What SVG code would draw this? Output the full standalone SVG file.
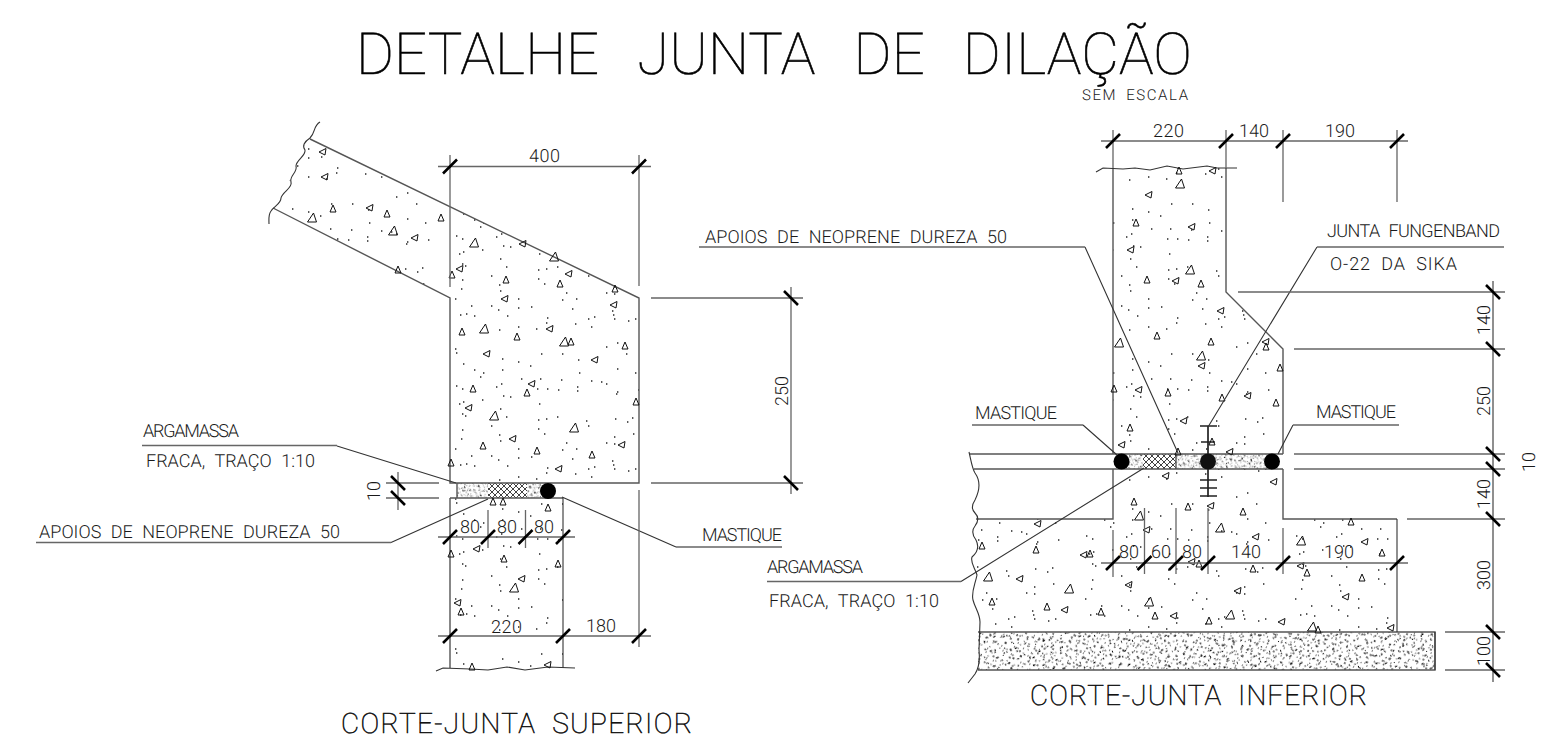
<svg xmlns="http://www.w3.org/2000/svg" xmlns:xlink="http://www.w3.org/1999/xlink" width="1558" height="741" viewBox="0 0 1558 741">
<style>
text{font-family:"Roboto","Liberation Sans",sans-serif;font-weight:300;fill:#1a1a1a;stroke:none;text-rendering:geometricPrecision}
.h{font-weight:100;fill:#000;stroke:#000;stroke-width:.6}
.m{font-weight:100;fill:#111;stroke:#111;stroke-width:.55}
.t{font-size:18px;word-spacing:5px}
.d{font-size:18px}
.o{fill:none;stroke:#555;stroke-width:1.4}
.l{fill:none;stroke:#666;stroke-width:1.3}
.k{fill:none;stroke:#000;stroke-width:2.6}
.e{fill:none;stroke:#333;stroke-width:1.1}
.w{fill:none;stroke:#333;stroke-width:1.1}
use{fill:none;stroke:#111;stroke-width:1}
</style>
<defs>
<path id="a" d="M-3 3H3L0-4Z"/>
<path id="b" d="M-4 0L3-3.500L2 3Z"/>
<path id="c" d="M-4.500 4H4.500L1.500-5Z"/>
<pattern id="dots" patternUnits="userSpaceOnUse" x="440" y="340" width="210" height="150">
<path fill="none" stroke="#222" stroke-width="1.400" d="M15 9h1.400M16 13h1.400M23 24h1.400M34 30h1.400M43 33h1.400M40 37h1.400M62 19h1.400M62 30h1.400M78 22h1.400M90 26h1.400M101 14h1.400M122 14h1.400M138 20h1.400M139 33h1.400M121 40h1.400M100 39h1.400M81 39h1.400M61 44h1.400M56 47h1.400M16 46h1.400M22 49h1.400M42 60h1.400M63 56h1.400M70 57h1.400M97 49h1.400M107 49h1.400M118 50h1.400M137 47h1.400M137 51h1.400M151 41h1.400M161 42h1.400M166 44h1.400M177 52h1.400M176 54h1.400M198 50h1.400M166 7h1.400M177 3h1.400M186 14h1.400M177 29h1.400M195 33h1.400M19 64h1.400M23 62h1.400M22 74h1.400M25 76h1.400M60 69h1.400M66 77h1.400M51 86h1.400M99 64h1.400M98 80h1.400M106 79h1.400M117 77h1.400M146 81h1.400M148 86h1.400M175 79h1.400M192 78h1.400M187 82h1.400M98 89h1.400M104 94h1.400M22 90h1.400M21 99h1.400M59 95h1.400M60 101h1.400M15 109h1.400M31 116h1.400M51 116h1.400M58 120h1.400M78 109h1.400M78 118h1.400M91 117h1.400M126 103h1.400M122 110h1.400M136 109h1.400M132 119h1.400M166 103h1.400M174 97h1.400M174 104h1.400M193 94h1.400M172 121h1.400M173 125h1.400M174 129h1.400M154 127h1.400M148 129h1.400M195 129h1.400M188 131h1.400M107 128h1.400M106 133h1.400M135 134h1.400M151 137h1.400M96 139h1.400M78 137h1.400M59 140h1.400M67 126h1.400M34 126h1.400M26 124h1.400M20 125h1.400"/>
</pattern>
<pattern id="grav" patternUnits="userSpaceOnUse" x="977" y="632" width="64" height="38" patternTransform="rotate(23)">
<path fill="none" stroke="#000" stroke-width="1.100" d="M1 2h2M10 3h1M19 2h1M28 1h1M38 1h1M47 1h2M57 1h1M3 6h1M13 5h1M22 6h2M31 5h1M41 6h2M50 5h1M60 6h1M5 11h1M15 11h1M25 9h2M34 10h1M44 9h1M53 10h2M62 11h1M8 15h1M17 15h2M26 15h1M36 15h1M45 13h2M55 14h1M1 18h1M10 17h2M19 18h1M29 17h1M38 18h2M48 19h1M57 19h1M7 23h2M17 23h1M26 21h1M35 22h1M45 21h1M54 22h2M5 27h1M14 27h2M24 25h1M33 26h1M42 27h1M52 25h1M61 26h2M8 31h1M17 31h1M26 29h2M36 30h1M45 31h2M54 29h1M1 34h1M10 33h1M20 34h2M29 35h1M38 33h1M48 34h1M57 35h1"/>
</pattern>
<pattern id="grav2" href="#grav" patternTransform="rotate(-31) scale(1.15)"/>
<pattern id="grav3" href="#grav" patternTransform="rotate(71) scale(.9)"/>
<pattern id="grav4" href="#grav" patternTransform="rotate(11) scale(.55)"/>
<pattern id="grav5" href="#grav" patternTransform="rotate(-58) scale(.6)"/>
<pattern id="cross" patternUnits="userSpaceOnUse" width="6" height="6">
<path fill="none" stroke="#111" stroke-width=".8" d="M0 0L6 6M6 0L0 6"/>
</pattern>
</defs>

<g id="titulo">
<text class="h" x="356" y="74" font-size="58" textLength="836" style="word-spacing:24px">DETALHE JUNTA DE DILAÇÃO</text>
<text x="1082" y="100" font-size="15" textLength="106" style="word-spacing:4px">SEM ESCALA</text>
</g>

<g id="corte-superior">
<path fill="url(#dots)" d="M310 139L639 298V483H450V298L273 208L290 180L300 155Z"/>
<path fill="url(#dots)" d="M450 498H563V668H450Z"/>
<rect x="457" y="483" width="84" height="15" fill="url(#grav3)"/>
<rect x="457" y="483" width="84" height="15" fill="url(#grav4)"/>
<rect x="457" y="483" width="84" height="15" fill="url(#grav5)"/>
<rect x="488" y="483" width="39" height="15" fill="#fff"/>
<rect x="488" y="483" width="39" height="15" fill="url(#cross)"/>
<path class="o" d="M310 139L639 298V483H450V298L273 208M457 483V498M450 498H563M450 498V668"/>
<path class="e" d="M563 498V668"/>
<path class="w" d="M320 122C313 126 316 132 310 138C304 142 302 146 305 150C306 156 296 160 296 166C298 172 289 176 291 182C293 188 282 192 281 198C281 204 274 206 271 211C268 215 269 220 269 224"/>
<path class="w" d="M436 671L443 668L470 669L488 670L507 667L525 670L548 667L575 668"/>
<circle cx="548" cy="491" r="8"/>
<g id="agregado-superior">
<use href="#b" x="323" y="152"/><use href="#b" x="325" y="177"/><use href="#c" x="312" y="218"/><use href="#a" x="333" y="209"/><use href="#b" x="370" y="208"/><use href="#a" x="387" y="214"/><use href="#c" x="393" y="231"/><use href="#b" x="415" y="238"/><use href="#a" x="441" y="218"/><use href="#a" x="398" y="270"/><use href="#c" x="474" y="243"/><use href="#b" x="523" y="244"/><use href="#c" x="554" y="257"/><use href="#b" x="569" y="274"/><use href="#a" x="560" y="284"/><use href="#a" x="506" y="280"/><use href="#b" x="460" y="269"/><use href="#a" x="452" y="275"/><use href="#b" x="505" y="299"/><use href="#a" x="615" y="289"/><use href="#b" x="614" y="305"/><use href="#a" x="462" y="332"/><use href="#c" x="484" y="329"/><use href="#a" x="517" y="337"/><use href="#b" x="550" y="329"/><use href="#c" x="564" y="342"/><use href="#a" x="571" y="342"/><use href="#a" x="625" y="346"/><use href="#b" x="487" y="354"/><use href="#b" x="595" y="360"/><use href="#b" x="532" y="384"/><use href="#a" x="527" y="393"/><use href="#a" x="473" y="389"/><use href="#b" x="469" y="408"/><use href="#c" x="494" y="416"/><use href="#c" x="574" y="428"/><use href="#a" x="636" y="402"/><use href="#b" x="513" y="439"/><use href="#a" x="483" y="446"/><use href="#a" x="537" y="451"/><use href="#a" x="592" y="455"/><use href="#b" x="622" y="445"/><use href="#b" x="559" y="469"/><use href="#a" x="451" y="463"/><use href="#a" x="493" y="502"/><use href="#a" x="503" y="502"/><use href="#a" x="548" y="508"/><use href="#b" x="477" y="549"/><use href="#a" x="451" y="554"/><use href="#a" x="504" y="559"/><use href="#a" x="558" y="564"/><use href="#b" x="522" y="579"/><use href="#c" x="514" y="588"/><use href="#b" x="458" y="603"/><use href="#a" x="461" y="612"/><use href="#b" x="548" y="665"/><use href="#a" x="472" y="667"/>
</g>
</g>

<g id="corte-inferior">
<path fill="url(#dots)" d="M1113 168H1226V292L1283 349V454H1113Z"/>
<path fill="url(#dots)" d="M1113 469H1283V519H1397V632H979L976 575L976 519H1113Z"/>
<rect x="978" y="632" width="457" height="38" fill="url(#grav)"/>
<rect x="978" y="632" width="457" height="38" fill="url(#grav2)"/>
<rect x="978" y="632" width="457" height="38" fill="url(#grav3)"/>
<rect x="1121" y="454" width="151" height="15" fill="url(#grav3)"/>
<rect x="1121" y="454" width="151" height="15" fill="url(#grav4)"/>
<rect x="1121" y="454" width="151" height="15" fill="url(#grav5)"/>
<rect x="1143" y="454" width="33" height="15" fill="#fff"/>
<rect x="1143" y="454" width="33" height="15" fill="url(#cross)"/>
<path class="o" d="M1113 168V454M1226 168V292L1283 349V454M970 454H1283M974 469H1283M1113 469V519H976M1283 469V519H1397M1176 454V469M978 632H1435V670H978"/>
<path class="e" d="M1397 519V632M1435 632V670"/>
<path class="w" d="M1096 172L1103 168L1123 169L1135 168L1150 170L1167 166L1183 169L1207 166L1217 168L1237 168"/>
<path class="w" d="M969 452C971 460 972 468 975 473C980 480 980 490 975 500C971 506 972 510 975 513C979 517 978 522 975 526C971 531 973 536 976 540C979 546 978 552 972 557C970 563 975 568 977 575C975 585 971 592 973 600C975 608 980 614 980 622L979 650C980 660 979 668 975 674L968 683"/>
<circle cx="1121.500" cy="461.500" r="8"/><circle cx="1208" cy="461.500" r="8" fill="#111"/><circle cx="1272" cy="461.500" r="8"/>
<path fill="none" stroke="#222" stroke-width="1.700" d="M1208 426V454M1208 469V497M1200 426H1217M1201 442H1215M1200 480H1217M1200 488H1217M1200 496H1217"/>
<g id="agregado-inferior">
<use href="#a" x="1179" y="171"/><use href="#b" x="1213" y="171"/><use href="#c" x="1180" y="184"/><use href="#b" x="1149" y="195"/><use href="#a" x="1136" y="223"/><use href="#b" x="1131" y="250"/><use href="#b" x="1192" y="227"/><use href="#c" x="1190" y="270"/><use href="#a" x="1147" y="280"/><use href="#b" x="1176" y="281"/><use href="#a" x="1201" y="284"/><use href="#b" x="1221" y="311"/><use href="#a" x="1157" y="336"/><use href="#c" x="1119" y="343"/><use href="#a" x="1211" y="342"/><use href="#c" x="1201" y="356"/><use href="#b" x="1202" y="366"/><use href="#b" x="1266" y="342"/><use href="#a" x="1266" y="347"/><use href="#a" x="1280" y="368"/><use href="#b" x="1139" y="390"/><use href="#a" x="1168" y="393"/><use href="#a" x="1222" y="398"/><use href="#b" x="1248" y="396"/><use href="#a" x="1276" y="403"/><use href="#b" x="1184" y="421"/><use href="#a" x="1114" y="389"/><use href="#a" x="1130" y="428"/><use href="#b" x="1122" y="445"/><use href="#a" x="1178" y="452"/><use href="#a" x="1212" y="442"/><use href="#b" x="1230" y="452"/><use href="#b" x="1166" y="476"/><use href="#b" x="1274" y="482"/><use href="#a" x="1134" y="502"/><use href="#c" x="1139" y="516"/><use href="#b" x="1147" y="530"/><use href="#a" x="1188" y="507"/><use href="#b" x="1211" y="506"/><use href="#a" x="1243" y="512"/><use href="#c" x="1220" y="528"/><use href="#b" x="1256" y="537"/><use href="#c" x="1301" y="541"/><use href="#b" x="1192" y="562"/><use href="#a" x="1199" y="564"/><use href="#a" x="1253" y="569"/><use href="#b" x="1301" y="566"/><use href="#a" x="1307" y="573"/><use href="#b" x="1129" y="585"/><use href="#a" x="1090" y="554"/><use href="#b" x="1084" y="555"/><use href="#b" x="1038" y="524"/><use href="#a" x="982" y="546"/><use href="#a" x="1036" y="550"/><use href="#c" x="988" y="577"/><use href="#b" x="1020" y="579"/><use href="#c" x="1069" y="589"/><use href="#a" x="992" y="602"/><use href="#a" x="1047" y="607"/><use href="#b" x="1065" y="610"/><use href="#a" x="1101" y="612"/><use href="#c" x="1149" y="602"/><use href="#a" x="1155" y="616"/><use href="#b" x="1174" y="616"/><use href="#a" x="1209" y="621"/><use href="#c" x="1230" y="615"/><use href="#b" x="1238" y="591"/><use href="#a" x="1351" y="522"/><use href="#b" x="1365" y="542"/><use href="#a" x="1382" y="553"/><use href="#a" x="1362" y="578"/><use href="#b" x="1346" y="597"/><use href="#b" x="1282" y="622"/><use href="#c" x="1312" y="627"/><use href="#a" x="1318" y="630"/><use href="#b" x="1391" y="628"/>
</g>
</g>

<g id="connectors">
<path class="e" d="M337 446L456 483M391 542.500L488 499M562 497L676 547"/>
<path class="l" d="M142 445.500H337M36 542.500H391M676 547H782"/>
<path class="e" d="M1085 247L1178 453M1083 425L1117 455M1293 425L1278 454M1317 247L1208 427M961 581.500L1144 468"/>
<path class="l" d="M699 247H1085M972 425H1083M1293 425H1399M1317 247H1504M767 581.500H961"/>

<path class="l" d="M438 166.500H651M450 155V287M639 155V286M651 298H803M651 483H803M791 287V494M386 483H439M386 498H439M398 472V510M438 537H575M488 510V548M525.500 510V548M438 636H651M639 490V647"/>
<path class="k" d="M443 173.500L457 159.500M632 173.500L646 159.500M784 291L798 305M784 476L798 490M391 476L405 490M391 491L405 505M443 544L457 530M481 544L495 530M518.500 544L532.500 530M556 544L570 530M443 643L457 629M556 643L570 629M632 643L646 629"/>

<path class="l" d="M1101 141H1408M1113 130V168M1226 130V168M1283 130V202M1397 130V202M1238 292H1505M1294 349H1505M1294 454H1505M1294 469H1505M1407 519H1505M1445 632H1505M1445 670H1505M1101 563H1408M1113 530V577M1144.500 508V574M1176 508V574M1208 508V574M1283 528V574"/>
<path class="e" d="M1493 281V682"/>
<path class="k" d="M1106 148L1120 134M1219 148L1233 134M1276 148L1290 134M1390 148L1404 134M1486 285L1500 299M1486 342L1500 356M1486 447L1500 461M1486 462L1500 476M1486 512L1500 526M1486 625L1500 639M1486 663L1500 677M1106 570L1120 556M1137.500 570L1151.500 556M1169 570L1183 556M1201 570L1215 556M1276 570L1290 556M1390 570L1404 556"/>
</g>

<g id="textos-superior">
<text class="t" x="143" y="436.500" textLength="96">ARGAMASSA</text>
<text class="t" x="146" y="466.500" textLength="169">FRACA, TRAÇO 1:10</text>
<text class="t" x="39" y="538" textLength="301">APOIOS DE NEOPRENE DUREZA 50</text>
<text class="t" x="702" y="541" textLength="80">MASTIQUE</text>
<text class="d" x="529" y="162" textLength="31">400</text>
<text class="d" x="460" y="533" textLength="20">80</text>
<text class="d" x="497" y="533" textLength="20">80</text>
<text class="d" x="534" y="533" textLength="20">80</text>
<text class="d" x="491" y="633" textLength="31">220</text>
<text class="d" x="586" y="632" textLength="30">180</text>
<text class="d" transform="translate(380 491) rotate(-90)" text-anchor="middle">10</text>
<text class="d" transform="translate(788 391) rotate(-90)" text-anchor="middle">250</text>
<text class="m" x="341" y="733" font-size="28" textLength="351" style="word-spacing:8px">CORTE-JUNTA SUPERIOR</text>
</g>

<g id="textos-inferior">
<text class="t" x="705" y="243" textLength="302">APOIOS DE NEOPRENE DUREZA 50</text>
<text class="t" x="975" y="419" textLength="82">MASTIQUE</text>
<text class="t" x="1316" y="418" textLength="80">MASTIQUE</text>
<text class="t" x="1327" y="237" textLength="173">JUNTA FUNGENBAND</text>
<text class="t" x="1330" y="270" textLength="127">O-22 DA SIKA</text>
<text class="t" x="767" y="573" textLength="96">ARGAMASSA</text>
<text class="t" x="769" y="606.500" textLength="170">FRACA, TRAÇO 1:10</text>
<text class="d" x="1153" y="137" textLength="31">220</text>
<text class="d" x="1239" y="137" textLength="30">140</text>
<text class="d" x="1325" y="137" textLength="30">190</text>
<text class="d" x="1119" y="558" textLength="20">80</text>
<text class="d" x="1151" y="558" textLength="20">60</text>
<text class="d" x="1182" y="558" textLength="20">80</text>
<text class="d" x="1231" y="558" textLength="30">140</text>
<text class="d" x="1324" y="558" textLength="30">190</text>
<text class="d" transform="translate(1490 320) rotate(-90)" text-anchor="middle">140</text>
<text class="d" transform="translate(1490 401) rotate(-90)" text-anchor="middle">250</text>
<text class="d" transform="translate(1535 462) rotate(-90)" text-anchor="middle">10</text>
<text class="d" transform="translate(1490 494) rotate(-90)" text-anchor="middle">140</text>
<text class="d" transform="translate(1490 575) rotate(-90)" text-anchor="middle">300</text>
<text class="d" transform="translate(1490 651) rotate(-90)" text-anchor="middle">100</text>
<text class="m" x="1030" y="705" font-size="28" textLength="337" style="word-spacing:8px">CORTE-JUNTA INFERIOR</text>
</g>
</svg>
